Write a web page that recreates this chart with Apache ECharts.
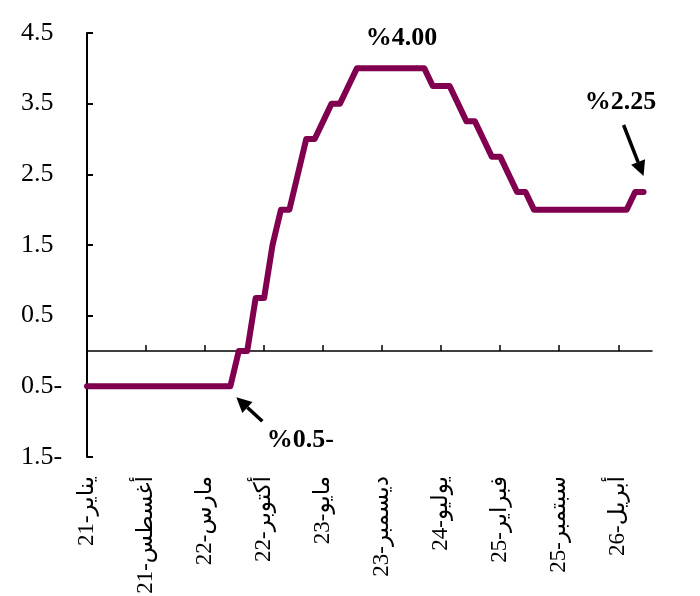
<!DOCTYPE html>
<html><head><meta charset="utf-8">
<script src="https://cdn.jsdelivr.net/npm/echarts@6/dist/echarts.min.js"></script>
<style>html,body{margin:0;padding:0;background:#fff}#c{width:700px;height:596px}</style>
</head><body><div id="c"></div>
<script>
// ---- data ----
const monthNames = ['يناير','فبراير','مارس','أبريل','مايو','يونيو','يوليو','أغسطس','سبتمبر','أكتوبر','نوفمبر','ديسمبر'];
const yearLabels = ['21','22','23','24','25','26'];
// monthly categories Jan-2021 .. Aug-2026
const categories = [];
for (let y = 0; y < yearLabels.length; y++) {
  for (let m = 0; m < 12; m++) {
    if (y === 5 && m > 7) break;
    categories.push(monthNames[m] + '-' + yearLabels[y]);
  }
}
// policy rate, % (one value per month)
const rates = [
  -0.5,-0.5,-0.5,-0.5,-0.5,-0.5,-0.5,-0.5,-0.5,-0.5,-0.5,-0.5,   // 2021
  -0.5,-0.5,-0.5,-0.5,-0.5,-0.5, 0, 0, 0.75, 0.75, 1.5, 2.0,      // 2022
  2.0, 2.5, 3.0, 3.0, 3.25, 3.5, 3.5, 3.75, 4.0, 4.0, 4.0, 4.0,   // 2023
  4.0, 4.0, 4.0, 4.0, 4.0, 3.75, 3.75, 3.75, 3.5, 3.25, 3.25, 3.0,// 2024
  2.75, 2.75, 2.5, 2.25, 2.25, 2.0, 2.0, 2.0, 2.0, 2.0, 2.0, 2.0, // 2025
  2.0, 2.0, 2.0, 2.0, 2.0, 2.25, 2.25, null                        // 2026
];
const annotations = [
  { text: '%4.00', idx: 36, val: 4.0 },
  { text: '%2.25', idx: 66, val: 2.25 },
  { text: '%0.5-', idx: 17, val: -0.5 }
];

const serif = '"Liberation Serif","Times New Roman","DejaVu Serif","DejaVu Sans",serif';
const chart = echarts.init(document.getElementById('c'), null, { renderer: 'canvas' });
chart.setOption({
  animation: false,
  backgroundColor: '#fff',
  grid: { left: 87, right: 48, top: 33, bottom: 139, containLabel: false, outerBoundsMode: 'none' },
  xAxis: {
    type: 'category',
    data: categories,
    boundaryGap: false,
    axisLine: { onZero: true, lineStyle: { color: '#000', width: 1.5 } },
    axisTick: { show: true, inside: true, length: 6, interval: 6, lineStyle: { color: '#000', width: 1.5 } },
    axisLabel: {
      interval: 6, rotate: 90, margin: 19,
      color: '#000', fontSize: 23, fontFamily: serif
    },
    splitLine: { show: false }
  },
  yAxis: {
    type: 'value',
    min: -1.5, max: 4.5, interval: 1,
    axisLine: { show: true, lineStyle: { color: '#000', width: 2 } },
    axisTick: { show: true, inside: true, length: 6, lineStyle: { color: '#000', width: 2 } },
    axisLabel: {
      color: '#000', fontSize: 26, fontFamily: serif, align: 'left', margin: 66,
      formatter: v => v < 0 ? (Math.abs(v) + '-') : String(v)
    },
    splitLine: { show: false }
  },
  series: [{
    type: 'line',
    data: rates,
    symbol: 'none',
    connectNulls: false,
    lineStyle: { color: '#80004F', width: 6, cap: 'round', join: 'round' },
    itemStyle: { color: '#80004F' }
  }]
});

function arrow(x1, y1, x2, y2) {
  const a = Math.atan2(y2 - y1, x2 - x1), c = Math.cos(a), s = Math.sin(a);
  const L = 15, W = 7.5;
  const bx = x2 - L * c, by = y2 - L * s;
  return [
    { type: 'line', shape: { x1: x1, y1: y1, x2: bx, y2: by }, style: { stroke: '#000', lineWidth: 3.5 } },
    { type: 'polygon', shape: { points: [[x2, y2], [bx - W * s, by + W * c], [bx + W * s, by - W * c]] }, style: { fill: '#000' } }
  ];
}
function px(a) { return chart.convertToPixel({ xAxisIndex: 0, yAxisIndex: 0 }, [a.idx, a.val]); }
const g = [];
const textStyle = (t) => ({ text: t, font: 'bold 26px ' + serif, fill: '#000', align: 'center', verticalAlign: 'middle' });
// %4.00 above the plateau
let p = px(annotations[0]);
g.push({ type: 'text', x: p[0] + 11, y: p[1] - 30, style: textStyle(annotations[0].text) });
// %2.25 with arrow down to last point
p = px(annotations[1]);
g.push({ type: 'text', x: p[0] - 23, y: p[1] - 90, style: textStyle(annotations[1].text) });
g.push(...arrow(p[0] - 20, p[1] - 67, p[0], p[1] - 16));
// %0.5- with arrow up to the end of the negative plateau
p = px(annotations[2]);
g.push({ type: 'text', x: p[0] + 70, y: p[1] + 54, style: textStyle(annotations[2].text) });
g.push(...arrow(p[0] + 32, p[1] + 35, p[0] + 6, p[1] + 11));
chart.setOption({ graphic: g });
</script>
</body></html>
